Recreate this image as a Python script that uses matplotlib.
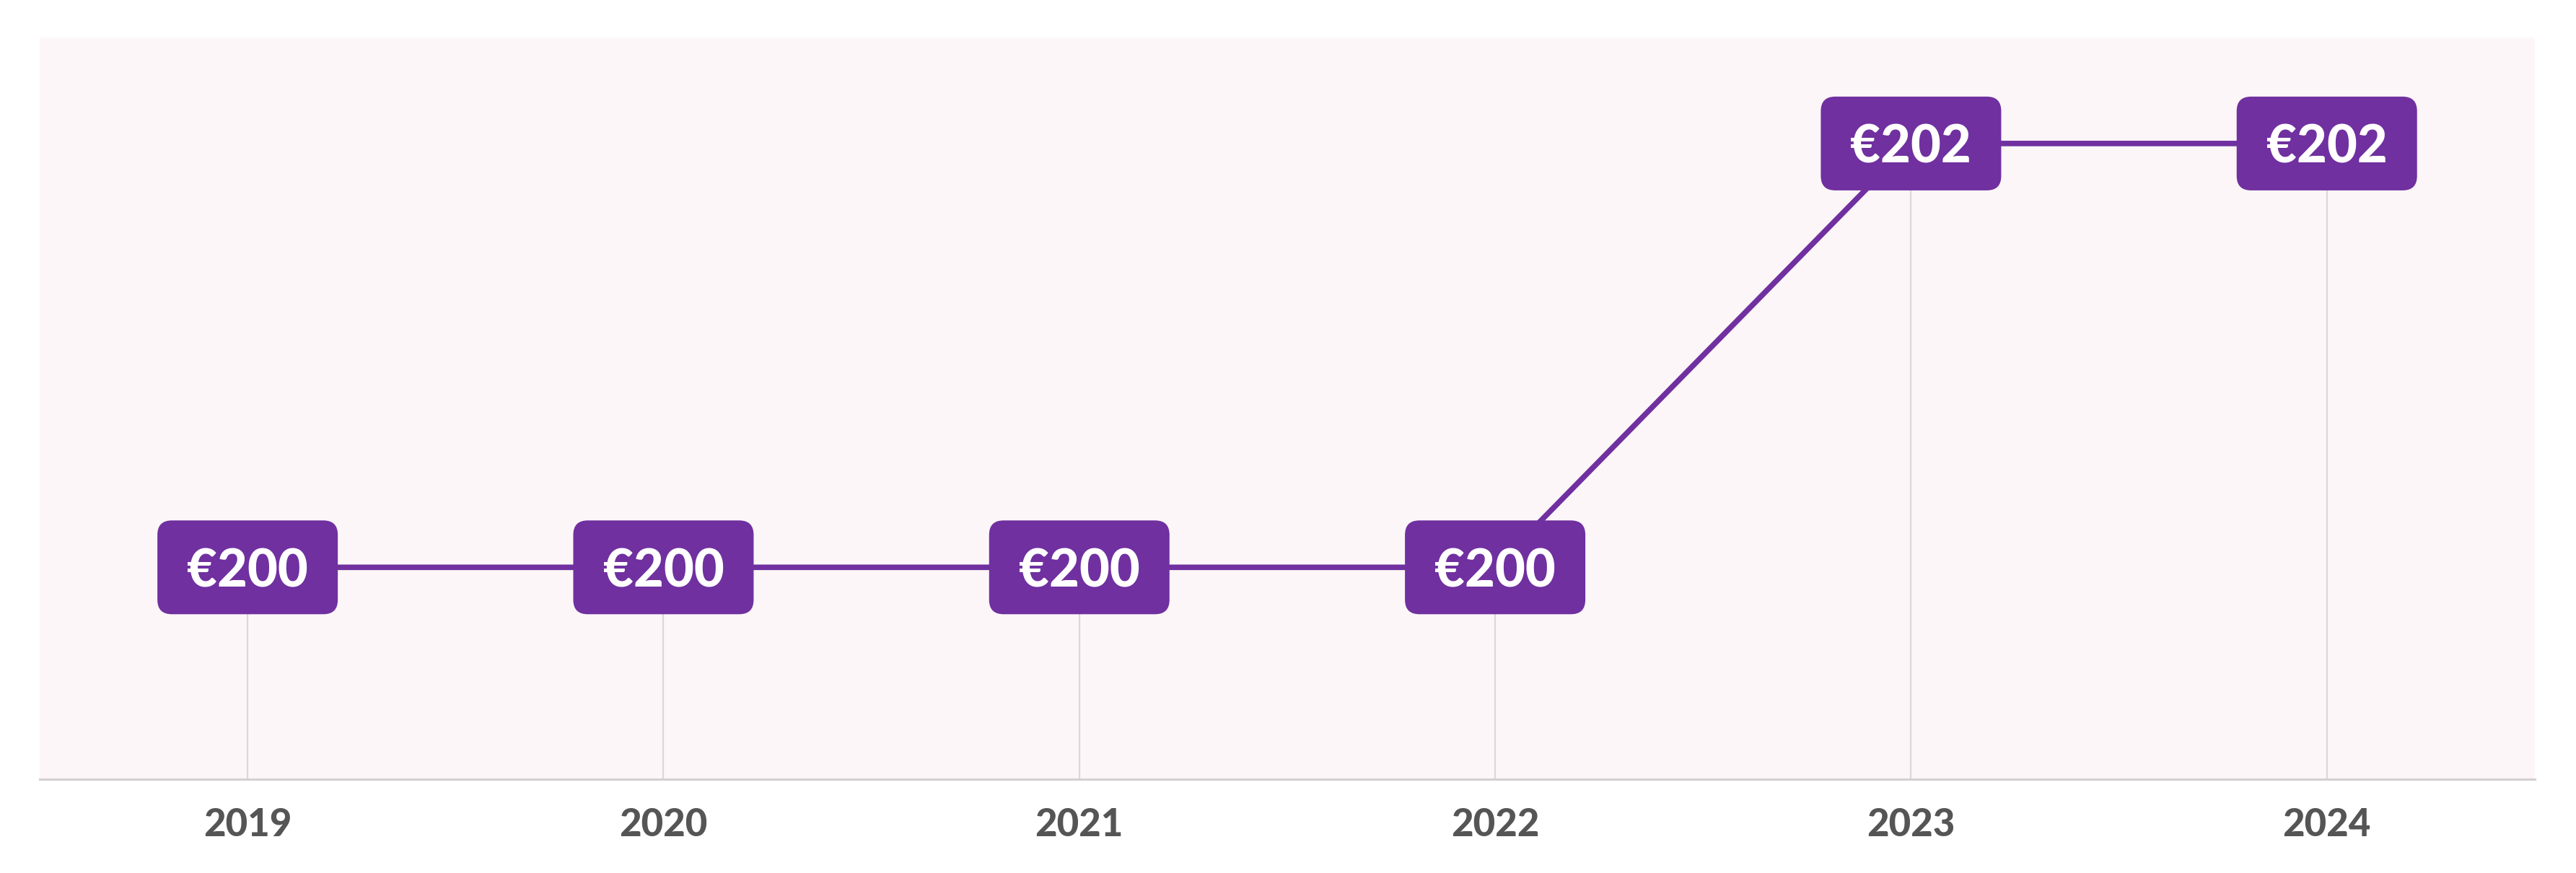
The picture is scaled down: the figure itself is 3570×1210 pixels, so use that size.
import matplotlib
matplotlib.use("Agg")
import matplotlib.pyplot as plt
import matplotlib.transforms as mtransforms
from matplotlib.patches import FancyBboxPatch

years = ["2019", "2020", "2021", "2022", "2023", "2024"]
values = [200, 200, 200, 200, 202, 202]
labels = ["€200", "€200", "€200", "€200", "€202", "€202"]

purple = "#7030a0"
grid_col = "#dcd8da"
bg = "#fcf6f8"
text_grey = "#555555"

plt.rcParams['font.family'] = ['Lato', 'DejaVu Sans']

fig = plt.figure(figsize=(35.7, 12.1), dpi=100)
ax = fig.add_axes([0.0154, 0.1074, 0.9686, 0.8496])
ax.set_facecolor(bg)

x = list(range(len(years)))
ax.set_xlim(-0.5, len(years) - 0.5)
ax.set_ylim(199, 202.5)

# thin drop lines from the axis up to each point
ax.vlines(x, 199, values, color=grid_col, lw=1.6, zorder=1)

ax.plot(x, values, color=purple, lw=5.5, zorder=2, solid_capstyle='butt')

for s in ['top', 'right', 'left']:
    ax.spines[s].set_visible(False)
ax.spines['bottom'].set_color("#d4d0d2")
ax.spines['bottom'].set_linewidth(2.2)
ax.set_yticks([])
ax.set_xticks(x)
ax.set_xticklabels(years, fontsize=38, fontweight='black', color=text_grey)
ax.tick_params(axis='x', length=0, pad=28)

# value boxes, sized in pixels, drawn on top of the axes
fig.canvas.draw()
for xi, v, lab in zip(x, values, labels):
    px, py = ax.transData.transform((xi, v))
    box = FancyBboxPatch((-125, -65), 250, 130,
                         boxstyle="round,pad=0,rounding_size=20",
                         facecolor=purple, edgecolor='none',
                         transform=mtransforms.Affine2D().translate(px, py),
                         zorder=3)
    fig.patches.append(box)
    fx, fy = fig.transFigure.inverted().transform((px, py))
    fig.text(fx, fy, lab, ha='center', va='center_baseline', color='white',
             fontsize=52, fontweight='black', zorder=5)

fig.savefig("out.png", dpi=100, facecolor='white')
